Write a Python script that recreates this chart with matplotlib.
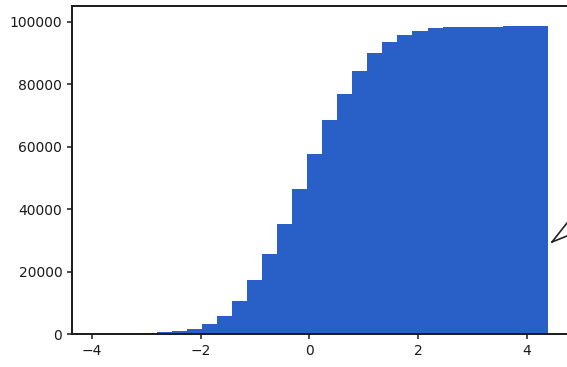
import matplotlib
matplotlib.use("Agg")
import matplotlib.pyplot as plt
from matplotlib.lines import Line2D
import numpy as np

# cumulative histogram of 100k normal samples
bin_start = -4.195
bin_width = 0.277
counts = [3, 10, 30, 80, 400, 500, 900, 1600, 3200, 5900,
          10700, 17300, 25600, 35300, 46300, 57500, 68400, 76700, 84200, 89900,
          93300, 95700, 97000, 97900, 98200, 98300, 98400, 98400, 98500, 98500,
          98500]
yticks = [0, 20000, 40000, 60000, 80000, 100000]
xticks = [-4, -2, 0, 2, 4]

edges = bin_start + bin_width * np.arange(len(counts) + 1)

fig = plt.figure(figsize=(5.67, 3.67), dpi=100)
ax = fig.add_axes([0.127, 0.0899, 0.887, 0.894])

ax.bar(edges[:-1], counts, width=bin_width, align="edge",
       color="#2960c8", edgecolor="none")

ax.set_xlim(-4.37, 4.89)
ax.set_ylim(0, 105000)
ax.set_xticks(xticks)
ax.set_yticks(yticks)
ax.set_xticklabels(["\u22124", "\u22122", "0", "2", "4"])
ax.tick_params(labelsize=10, colors="#1a1a1a", width=1.1)
for side in ["left", "bottom", "top"]:
    ax.spines[side].set_color("#1a1a1a")
    ax.spines[side].set_linewidth(1.4)

# pen mark at the right edge of the page
fig.add_artist(Line2D([552 / 567, 567 / 567], [1 - 242 / 367, 1 - 223 / 367],
                      color="#222222", lw=1.2))
fig.add_artist(Line2D([552 / 567, 567 / 567], [1 - 242 / 367, 1 - 236 / 367],
                      color="#222222", lw=1.2))

fig.savefig("out.png", dpi=100)
